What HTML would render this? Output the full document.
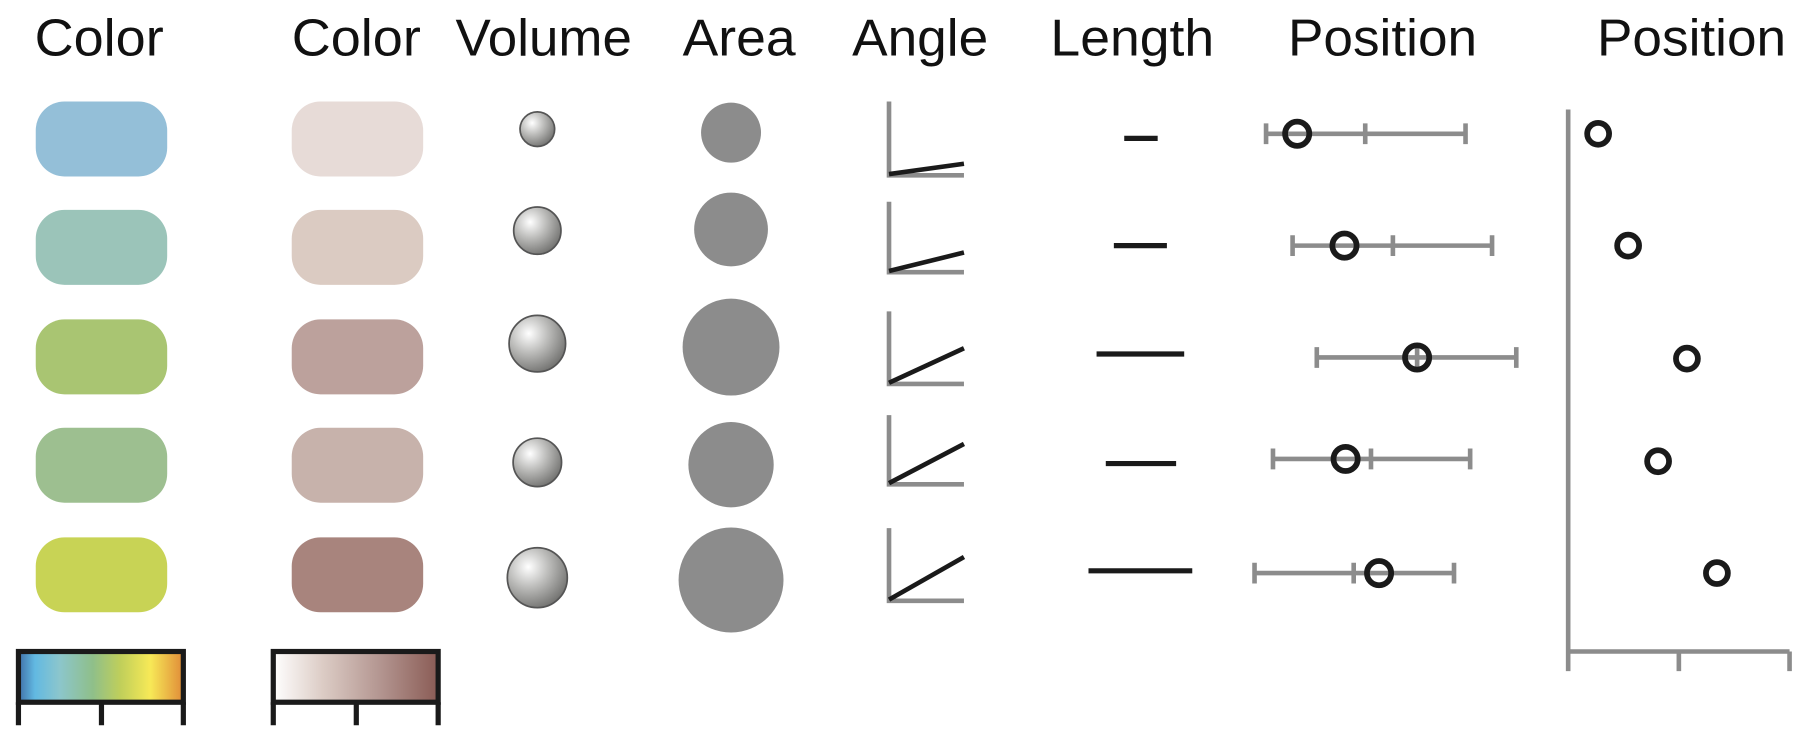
<!DOCTYPE html>
<html><head><meta charset="utf-8"><style>html,body{margin:0;padding:0;background:#fff}svg{display:block}</style></head>
<body>
<svg width="1808" height="738" viewBox="0 0 1568 640" xmlns="http://www.w3.org/2000/svg">
<defs>
<radialGradient id="sph" cx="0.35" cy="0.32" r="0.75">
<stop offset="0" stop-color="#ffffff"/><stop offset="0.45" stop-color="#bdbdbb"/><stop offset="1" stop-color="#6e6e6c"/>
</radialGradient>
<linearGradient id="g1" x1="0" x2="1">
<stop offset="0" stop-color="#3f6fa8"/><stop offset="0.1" stop-color="#62b9e2"/><stop offset="0.25" stop-color="#8cc6cc"/><stop offset="0.45" stop-color="#8fbf8a"/><stop offset="0.62" stop-color="#c0cf5a"/><stop offset="0.8" stop-color="#f7e957"/><stop offset="1" stop-color="#e08b38"/>
</linearGradient>
<linearGradient id="g2" x1="0" x2="1">
<stop offset="0" stop-color="#ffffff"/><stop offset="0.3" stop-color="#dcccc5"/><stop offset="0.65" stop-color="#b39590"/><stop offset="1" stop-color="#8a5b55"/>
</linearGradient>
</defs>
<g font-family="Liberation Sans, sans-serif" font-size="45" fill="#111">
<text x="30" y="48" textLength="112" lengthAdjust="spacingAndGlyphs">Color</text>
<text x="253" y="48" textLength="112" lengthAdjust="spacingAndGlyphs">Color</text>
<text x="395" y="48" textLength="153" lengthAdjust="spacingAndGlyphs">Volume</text>
<text x="592" y="48" textLength="98" lengthAdjust="spacingAndGlyphs">Area</text>
<text x="739" y="48" textLength="118" lengthAdjust="spacingAndGlyphs">Angle</text>
<text x="911" y="48" textLength="142" lengthAdjust="spacingAndGlyphs">Length</text>
<text x="1117" y="48" textLength="164" lengthAdjust="spacingAndGlyphs">Position</text>
<text x="1385" y="48" textLength="164" lengthAdjust="spacingAndGlyphs">Position</text>
</g>
<g>
<rect x="31" y="88" width="114" height="65" rx="25" fill="#94bfd8"/>
<rect x="31" y="182" width="114" height="65" rx="25" fill="#9bc4b9"/>
<rect x="31" y="277" width="114" height="65" rx="25" fill="#a9c572"/>
<rect x="31" y="371" width="114" height="65" rx="25" fill="#9dbf90"/>
<rect x="31" y="466" width="114" height="65" rx="25" fill="#c8d355"/>
<rect x="253" y="88" width="114" height="65" rx="25" fill="#e7dbd7"/>
<rect x="253" y="182" width="114" height="65" rx="25" fill="#dbcbc2"/>
<rect x="253" y="277" width="114" height="65" rx="25" fill="#bca19c"/>
<rect x="253" y="371" width="114" height="65" rx="25" fill="#c7b2ab"/>
<rect x="253" y="466" width="114" height="65" rx="25" fill="#a8847d"/>
</g>
<g stroke="#555" stroke-width="1.5" fill="url(#sph)">
<circle cx="466" cy="112" r="15"/>
<circle cx="466" cy="200" r="20.5"/>
<circle cx="466" cy="298" r="24.5"/>
<circle cx="466" cy="401" r="21"/>
<circle cx="466" cy="501" r="26"/>
</g>
<g fill="#8c8c8c">
<circle cx="634" cy="115" r="26"/>
<circle cx="634" cy="199" r="32"/>
<circle cx="634" cy="301" r="42"/>
<circle cx="634" cy="403" r="37"/>
<circle cx="634" cy="503" r="45.5"/>
</g>
<g stroke-width="4" fill="none">
<g stroke="#8c8c8c">
<path d="M771 88V152H836"/><path d="M771 175V236H836"/><path d="M771 270V333H836"/><path d="M771 360V420H836"/><path d="M771 458V521H836"/>
</g>
<g stroke="#1a1a1a">
<path d="M771 151L836 142"/><path d="M771 235L836 219"/><path d="M771 332L836 302"/><path d="M771 419L836 385"/><path d="M771 520L836 483"/>
</g>
</g>
<g stroke="#1a1a1a" stroke-width="4.5">
<path d="M975 120H1004"/><path d="M966 213H1012"/><path d="M951 307H1027"/><path d="M959 402H1020"/><path d="M944 495H1034"/>
</g>
<g stroke="#8c8c8c" stroke-width="4" fill="none">
<path d="M1098 116H1271M1098 107V125M1184 107V125M1271 107V125"/>
<path d="M1121 213H1294M1121 204V222M1208 204V222M1294 204V222"/>
<path d="M1142 310H1315M1142 301V319M1229 301V319M1315 301V319"/>
<path d="M1104 398H1275M1104 389V407M1189 389V407M1275 389V407"/>
<path d="M1088 497H1261M1088 488V506M1174 488V506M1261 488V506"/>
<path d="M1360 95V582M1360 565H1552M1456 565V582M1552 565V582"/>
</g>
<g stroke="#1a1a1a" stroke-width="5" fill="none">
<circle cx="1125" cy="116" r="10.5"/><circle cx="1166" cy="213" r="10.5"/><circle cx="1229" cy="310" r="10.5"/><circle cx="1167" cy="398" r="10.5"/><circle cx="1196" cy="497" r="10.5"/>
<circle cx="1386" cy="116" r="9.5"/><circle cx="1412" cy="213" r="9.5"/><circle cx="1463" cy="311" r="9.5"/><circle cx="1438" cy="400" r="9.5"/><circle cx="1489" cy="497" r="9.5"/>
</g>
<g stroke="#1a1a1a" stroke-width="4.5">
<rect x="16" y="565" width="143" height="44" fill="url(#g1)"/>
<path d="M16 609V629M88 609V629M159 609V629" fill="none"/>
<rect x="237" y="565" width="143" height="44" fill="url(#g2)"/>
<path d="M237 609V629M309 609V629M380 609V629" fill="none"/>
</g>
</svg>
</body></html>
